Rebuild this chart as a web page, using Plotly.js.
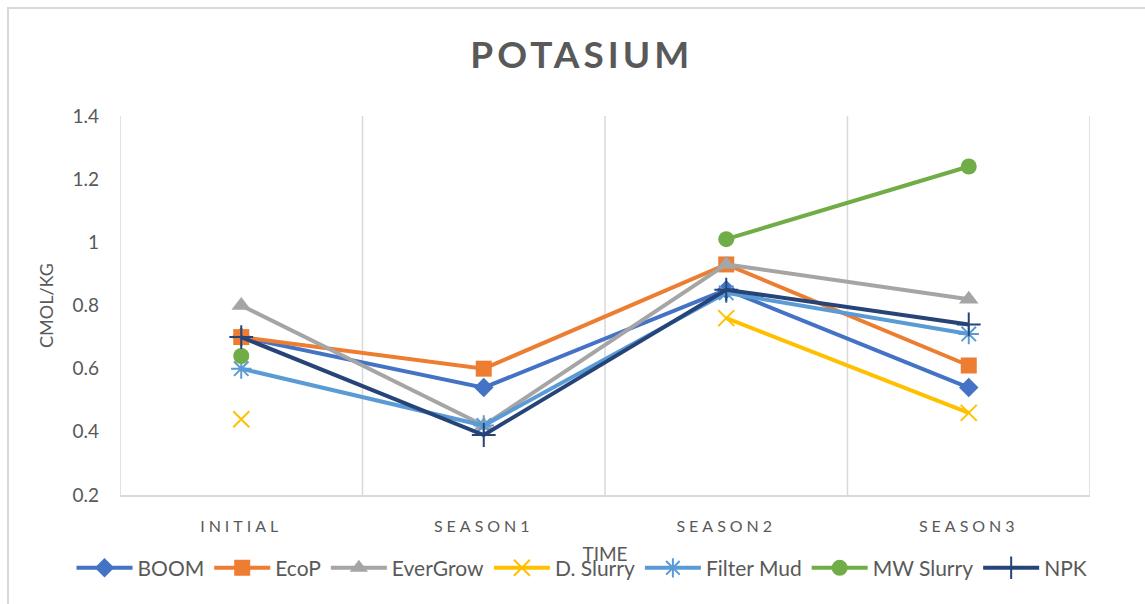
<!DOCTYPE html>
<html>
<head>
<meta charset="utf-8">
<script src="https://cdn.plot.ly/plotly-3.0.1.min.js"></script>
<style>
  html, body { margin: 0; padding: 0; background: #fff; }
  #wrap { position: relative; width: 1145px; height: 604px; overflow: hidden; }
  #chart { width: 1145px; height: 604px; }
  #frame { position: absolute; left: 7px; top: 7px; width: 1160px; height: 620px; border: 2px solid #d9d9d9; pointer-events: none; box-sizing: border-box; }
  .xtick text { letter-spacing: 4px; }
  .gtitle { letter-spacing: 4px; }
</style>
</head>
<body>
<div id="wrap">
  <div id="chart"></div>
  <div id="frame"></div>
</div>
<script>
const categories = ["INITIAL", "SEASON1", "SEASON2", "SEASON3"];
const seriesNames = ["BOOM", "EcoP", "EverGrow", "D. Slurry", "Filter Mud", "MW Slurry", "NPK"];
const boom      = [0.70, 0.54, 0.85, 0.54];
const ecop      = [0.70, 0.60, 0.93, 0.61];
const evergrow  = [0.80, 0.42, 0.93, 0.82];
const dslurry   = [0.44, null, 0.76, 0.46];
const filterMud = [0.60, 0.42, 0.84, 0.71];
const mwSlurry  = [0.64, null, 1.01, 1.24];
const npk       = [0.70, 0.39, 0.85, 0.74];
const yTicks = [0.2, 0.4, 0.6, 0.8, 1, 1.2, 1.4];

const values = [boom, ecop, evergrow, dslurry, filterMud, mwSlurry, npk];
const colors = ["#4472C4", "#ED7D31", "#A5A5A5", "#FFC000", "#5B9BD5", "#70AD47", "#264478"];
const symbols = ["diamond", "square", "triangle-up", "x-thin-open", "asterisk-open", "circle", "cross-thin-open"];
const sizes = [15, 16, 17, 16, 17, 16, 17];

const xIdx = categories.map((_, i) => i);
const traces = values.map((v, k) => ({
  type: "scatter",
  mode: "lines+markers",
  name: seriesNames[k],
  x: xIdx,
  y: v,
  connectgaps: false,
  line: { color: colors[k], width: 4 },
  marker: {
    symbol: symbols[k],
    size: sizes[k],
    color: colors[k],
    line: { color: colors[k], width: symbols[k].endsWith("-open") ? 2 : 0 }
  },
  hoverinfo: "name+y"
}));

const gridShapes = [-0.5, 0.5, 1.5, 2.5, 3.5].map(x => ({
  type: "line", xref: "x", yref: "paper", x0: x, x1: x, y0: 0, y1: 1,
  line: { color: "#d9d9d9", width: 1.5 }, layer: "below"
}));

const font = "Lato, 'Open Sans', sans-serif";
const layout = {
  width: 1145, height: 604,
  margin: { l: 120, r: 55, t: 116, b: 109 },
  paper_bgcolor: "#fff", plot_bgcolor: "#fff",
  font: { family: font, color: "#595959" },
  title: {
    text: "<b>POTASIUM</b>",
    font: { size: 37, color: "#595959", family: font },
    x: 0.476, xanchor: "center", y: 0.909, yanchor: "middle", xref: "paper", yref: "container"
  },
  xaxis: {
    range: [-0.5, 3.5],
    tickvals: xIdx, ticktext: categories,
    showgrid: false, zeroline: false,
    showline: true, linecolor: "#d9d9d9", linewidth: 1.5,
    ticks: "", ticklabelstandoff: 16, tickfont: { size: 16, color: "#595959" },
    fixedrange: true,
    title: { text: "TIME", font: { size: 19, color: "#595959" }, standoff: 14 }
  },
  yaxis: {
    range: [0.2, 1.4], tickvals: yTicks, ticktext: yTicks.map(String),
    showgrid: false, zeroline: false, showline: false,
    ticks: "", ticklabelstandoff: 20,
    tickfont: { size: 19, color: "#595959" },
    title: { text: "CMOL/KG", font: { size: 18, color: "#595959" }, standoff: 14 }
  },
  shapes: gridShapes,
  showlegend: true,
  legend: {
    orientation: "h", x: -0.05, xanchor: "left", y: -0.193, yanchor: "middle",
    font: { size: 21, color: "#595959" }, itemwidth: 56,
    bgcolor: "rgba(0,0,0,0)", traceorder: "normal"
  }
};

Plotly.newPlot("chart", traces, layout, { displayModeBar: false, staticPlot: true });
</script>
</body>
</html>
